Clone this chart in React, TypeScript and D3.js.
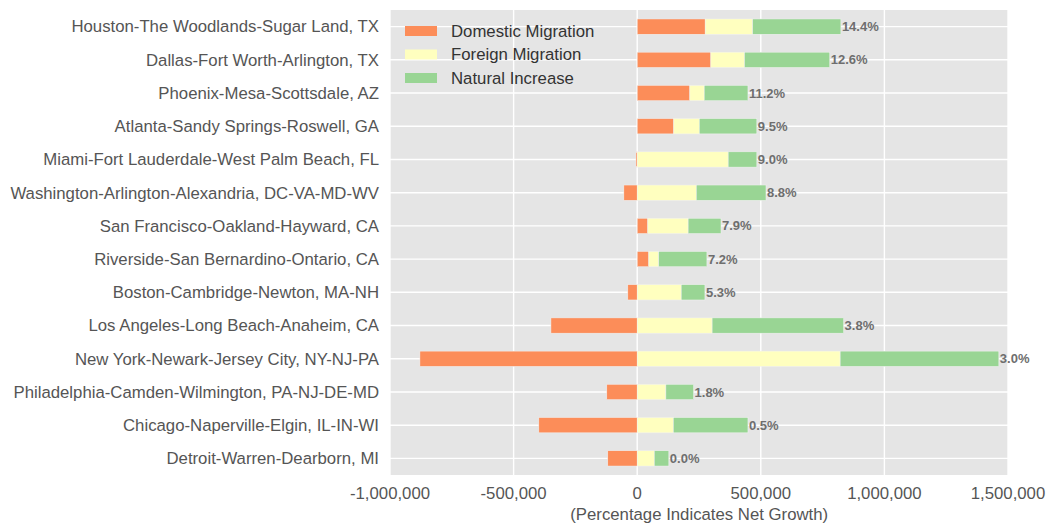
import React, { useEffect, useRef } from 'react';
import * as d3 from 'd3';

const metros = [
  'Houston-The Woodlands-Sugar Land, TX',
  'Dallas-Fort Worth-Arlington, TX',
  'Phoenix-Mesa-Scottsdale, AZ',
  'Atlanta-Sandy Springs-Roswell, GA',
  'Miami-Fort Lauderdale-West Palm Beach, FL',
  'Washington-Arlington-Alexandria, DC-VA-MD-WV',
  'San Francisco-Oakland-Hayward, CA',
  'Riverside-San Bernardino-Ontario, CA',
  'Boston-Cambridge-Newton, MA-NH',
  'Los Angeles-Long Beach-Anaheim, CA',
  'New York-Newark-Jersey City, NY-NJ-PA',
  'Philadelphia-Camden-Wilmington, PA-NJ-DE-MD',
  'Chicago-Naperville-Elgin, IL-IN-WI',
  'Detroit-Warren-Dearborn, MI',
];
const domestic = [275000, 298000, 213000, 148000, -5000, -54000, 43000, 47000, -38000, -349000, -879000, -123000, -398000, -119000];
const foreign = [192000, 136000, 58000, 103000, 368000, 239000, 163000, 40000, 178000, 303000, 821000, 116000, 146000, 69000];
const natural = [357000, 345000, 177000, 233000, 116000, 282000, 133000, 195000, 96000, 532000, 642000, 112000, 302000, 59000];
const growthLabels = ['14.4%', '12.6%', '11.2%', '9.5%', '9.0%', '8.8%', '7.9%', '7.2%', '5.3%', '3.8%', '3.0%', '1.8%', '0.5%', '0.0%'];
const seriesNames = ['Domestic Migration', 'Foreign Migration', 'Natural Increase'];
const seriesColors = ['#fc8d59', '#ffffbf', '#99d594'];
const xTicks = [-1000000, -500000, 0, 500000, 1000000, 1500000];

const width = 1055;
const height = 531;

export default function App() {
  const svgRef = useRef<SVGSVGElement>(null);

  useEffect(() => {
    if (!svgRef.current) return;
    const svg = d3.select(svgRef.current);
    svg.selectAll('*').remove();

    const margin = { top: 10, right: 47, bottom: 56, left: 390 };
    const iWidth = width - margin.left - margin.right;
    const iHeight = height - margin.top - margin.bottom;
    const font = '"Liberation Sans", Arial, sans-serif';
    const fs = '16.75px';

    svg.append('rect').attr('width', width).attr('height', height).attr('fill', '#ffffff');
    const g = svg.append('g').attr('transform', `translate(${margin.left},${margin.top})`);
    g.append('rect').attr('width', iWidth).attr('height', iHeight).attr('fill', '#e5e5e5');

    const x = d3.scaleLinear().domain([-1000000, 1500000]).range([0, iWidth]);
    const y = d3.scalePoint<string>().domain(metros).range([0, iHeight]).padding(0.5);
    const step = y.step();
    const barH = step * 0.46;

    // grid
    g.append('g').selectAll('line').data(xTicks).enter().append('line')
      .attr('x1', d => x(d)).attr('x2', d => x(d)).attr('y1', 0).attr('y2', iHeight)
      .attr('stroke', '#ffffff').attr('stroke-width', 1.4);
    g.append('g').selectAll('line').data(metros).enter().append('line')
      .attr('x1', 0).attr('x2', iWidth).attr('y1', d => y(d)!).attr('y2', d => y(d)!)
      .attr('stroke', '#ffffff').attr('stroke-width', 1.4);

    // stacked bars (negatives stack leftward from 0)
    const series = [domestic, foreign, natural];
    metros.forEach((m, i) => {
      let pos = 0;
      let neg = 0;
      series.forEach((vals, s) => {
        const v = vals[i];
        let x0: number, x1: number;
        if (v >= 0) { x0 = pos; x1 = pos + v; pos = x1; }
        else { x1 = neg; x0 = neg + v; neg = x0; }
        g.append('rect')
          .attr('x', x(x0)).attr('width', Math.max(0, x(x1) - x(x0)))
          .attr('y', y(m)! - barH / 2).attr('height', barH)
          .attr('fill', seriesColors[s])
          .attr('stroke', '#f2f2f2').attr('stroke-width', 0.5);
      });
      g.append('text')
        .attr('x', x(pos) + 1).attr('y', y(m)!).attr('dy', '0.35em')
        .attr('fill', '#6e6e6e').style('font-family', font).style('font-weight', 'bold').style('font-size', '13px')
        .text(growthLabels[i]);
    });

    // category labels
    g.append('g').selectAll('text').data(metros).enter().append('text')
      .attr('x', -11).attr('y', d => y(d)!).attr('dy', '0.35em').attr('text-anchor', 'end')
      .attr('fill', '#555555').style('font-family', font).style('font-size', fs)
      .text(d => d);

    // x tick labels (plain hyphen for negatives)
    const fmt = (d: number) => d3.format(',')(d).replace('\u2212', '-');
    g.append('g').selectAll('text').data(xTicks).enter().append('text')
      .attr('x', d => x(d)).attr('y', iHeight + 24).attr('text-anchor', 'middle')
      .attr('fill', '#555555').style('font-family', font).style('font-size', fs)
      .text(d => fmt(d));

    g.append('text').attr('x', x(0) + 62).attr('y', iHeight + 45).attr('text-anchor', 'middle')
      .attr('fill', '#555555').style('font-family', font).style('font-size', fs)
      .text('(Percentage Indicates Net Growth)');

    // legend
    const legend = g.append('g').attr('transform', 'translate(15,21)');
    seriesNames.forEach((name, i) => {
      const row = legend.append('g').attr('transform', `translate(0,${i * 23.5})`);
      row.append('rect').attr('x', 0).attr('y', -5).attr('width', 32).attr('height', 10).attr('fill', seriesColors[i]);
      row.append('text').attr('x', 46).attr('y', 0).attr('dy', '0.35em')
        .attr('fill', '#333333').style('font-family', font).style('font-size', fs)
        .text(name);
    });
  }, []);

  return (
    <div style={{ position: 'absolute', left: 0, top: 0 }}>
      <svg ref={svgRef} width={width} height={height} style={{ display: 'block' }} />
    </div>
  );
}
